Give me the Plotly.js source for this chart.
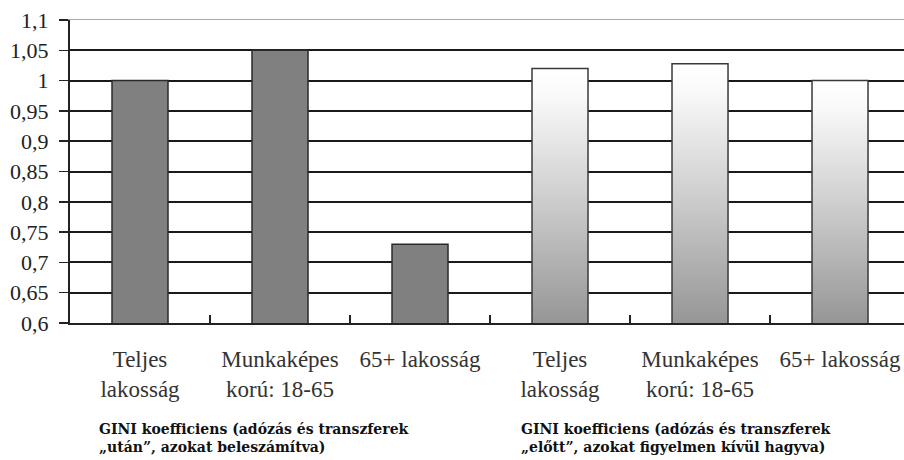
<!DOCTYPE html>
<html>
<head>
<meta charset="utf-8">
<script src="https://cdn.plot.ly/plotly-3.0.1.min.js"></script>
<style>html,body{margin:0;padding:0;background:#fff;}#chart{width:904px;height:460px;}</style>
</head>
<body>
<div id="chart"></div>
<script>
// Data
const categories = ["c1", "c2", "c3", "c4", "c5", "c6"];
const categoryLabels = ["Teljes<br>lakosság", "Munkaképes<br>korú: 18-65", "65+ lakosság",
                        "Teljes<br>lakosság", "Munkaképes<br>korú: 18-65", "65+ lakosság"];
const afterCats = ["c1", "c2", "c3"];
const afterValues = [1.0, 1.05, 0.73];
const beforeCats = ["c4", "c5", "c6"];
const beforeValues = [1.02, 1.028, 1.0];
const yTickVals = [0.6, 0.65, 0.7, 0.75, 0.8, 0.85, 0.9, 0.95, 1.0, 1.05, 1.1];
const yTickText = ["0,6", "0,65", "0,7", "0,75", "0,8", "0,85", "0,9", "0,95", "1", "1,05", "1,1"];
const groupTitles = [
  "GINI koefficiens (adózás és transzferek<br>„után”, azokat beleszámítva)",
  "GINI koefficiens (adózás és transzferek<br>„előtt”, azokat figyelmen kívül hagyva)"
];

const serif = "'Liberation Serif', 'Times New Roman', serif";
const noteFont = "'DejaVu Serif', serif";

const traces = [
  {
    type: "bar", x: afterCats, y: afterValues, width: 0.4,
    marker: {color: "#808080", line: {color: "#2a2a2a", width: 1.5}},
    hoverinfo: "skip", showlegend: false
  },
  {
    type: "bar", x: beforeCats, y: beforeValues, width: 0.4,
    marker: {color: "#cccccc", line: {color: "#3a3a3a", width: 1.5}},
    hoverinfo: "skip", showlegend: false
  },
  {type: "bar", x: [], y: [], xaxis: "x2", yaxis: "y", hoverinfo: "skip", showlegend: false}
];

const layout = {
  width: 904, height: 460,
  margin: {l: 70, r: 0, t: 20, b: 137, pad: 0},
  paper_bgcolor: "#ffffff", plot_bgcolor: "#ffffff",
  showlegend: false,
  font: {family: serif},
  xaxis: {
    type: "category",
    categoryorder: "array", categoryarray: categories,
    tickvals: categories, ticktext: categoryLabels,
    range: [-0.5, 5.457],
    tickson: "boundaries",
    ticks: "inside", ticklen: 8, tickwidth: 1.5, tickcolor: "#222",
    showline: true, linecolor: "#222", linewidth: 2,
    showgrid: false, zeroline: false,
    tickfont: {family: serif, size: 23, color: "#333"},
    ticklabelstandoff: 14,
    fixedrange: true
  },
  xaxis2: {
    overlaying: "x", side: "top", matches: "x",
    showline: true, linecolor: "#aaaaaa", linewidth: 1.5,
    showticklabels: false, ticks: "", showgrid: false, zeroline: false,
    type: "category"
  },
  yaxis: {
    range: [0.6, 1.1],
    tickvals: yTickVals, ticktext: yTickText,
    ticks: "outside", ticklen: 9, tickwidth: 1.5, tickcolor: "#222",
    showline: true, linecolor: "#222", linewidth: 2,
    showgrid: true, gridcolor: "#1a1a1a", gridwidth: 2,
    zeroline: false,
    tickfont: {family: serif, size: 22, color: "#222"},
    ticklabelstandoff: 6,
    fixedrange: true
  },
  annotations: [
    {
      xref: "paper", yref: "paper", x: 0.0324, y: -0.378,
      xanchor: "left", yanchor: "middle", align: "left",
      text: "<b>" + groupTitles[0] + "</b>", showarrow: false,
      font: {family: noteFont, size: 14, color: "#111"}
    },
    {
      xref: "paper", yref: "paper", x: 0.538, y: -0.378,
      xanchor: "left", yanchor: "middle", align: "left",
      text: "<b>" + groupTitles[1] + "</b>", showarrow: false,
      font: {family: noteFont, size: 14, color: "#111"}
    }
  ]
};

Plotly.newPlot("chart", traces, layout, {displayModeBar: false, staticPlot: true}).then(function (gd) {
  const svg = gd.querySelector("svg.main-svg");
  const ns = "http://www.w3.org/2000/svg";
  let defs = svg.querySelector("defs");
  if (!defs) { defs = document.createElementNS(ns, "defs"); svg.insertBefore(defs, svg.firstChild); }
  const plotBottom = gd._fullLayout.yaxis._length;
  const barTraces = gd.querySelectorAll(".barlayer .trace");
  if (barTraces.length > 1) {
    barTraces[1].querySelectorAll("path").forEach(function (p, i) {
      const bb = p.getBBox();
      const grad = document.createElementNS(ns, "linearGradient");
      const id = "barGrad" + i;
      grad.setAttribute("id", id);
      grad.setAttribute("gradientUnits", "userSpaceOnUse");
      grad.setAttribute("x1", "0"); grad.setAttribute("x2", "0");
      grad.setAttribute("y1", String(bb.y));
      grad.setAttribute("y2", String(plotBottom));
      [["0", "#ffffff"], ["0.1", "#fafafa"], ["0.5", "#cfcfcf"], ["1", "#969696"]].forEach(function (s) {
        const st = document.createElementNS(ns, "stop");
        st.setAttribute("offset", s[0]); st.setAttribute("stop-color", s[1]);
        grad.appendChild(st);
      });
      defs.appendChild(grad);
      p.style.fill = "url(#" + id + ")";
    });
  }
});
</script>
</body>
</html>
